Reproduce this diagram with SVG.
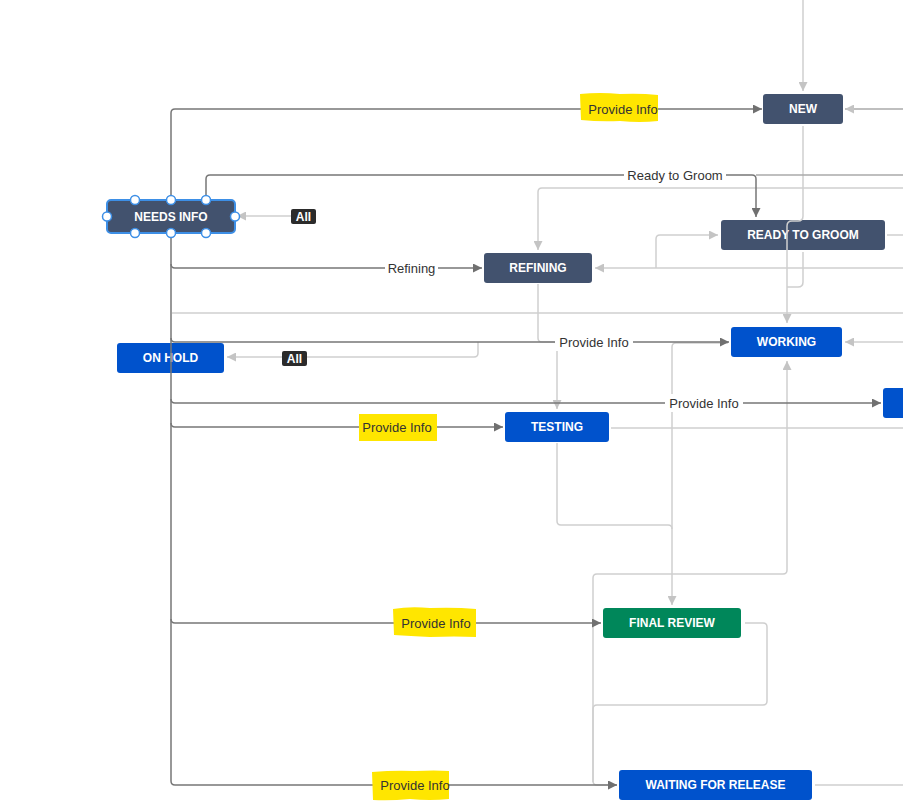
<svg xmlns="http://www.w3.org/2000/svg" width="903" height="805" viewBox="0 0 903 805">
<style>
.dk{fill:none;stroke:#777;stroke-width:1.5}
.md{fill:none;stroke:#aaa;stroke-width:1.5}
.lt{fill:none;stroke:#cfcfcf;stroke-width:1.5}
.node text{font-family:"Liberation Sans",Arial,sans-serif;font-size:12px;font-weight:bold;fill:#fff;text-anchor:middle}
.lbl{font-family:"Liberation Sans",Arial,sans-serif;font-size:13px;fill:#333;text-anchor:middle}
.wbg{fill:#fff}
.hl{fill:#ffe600}
.badge rect{fill:#2b2b2b}
.badge text{font-family:"Liberation Sans",Arial,sans-serif;font-size:12px;font-weight:bold;fill:#fff;text-anchor:middle}
.h{fill:#fff;stroke:#3d8fe6;stroke-width:1.5}
</style>
<defs>
<marker id="ad" viewBox="0 0 10 10" refX="10" refY="5" markerWidth="10" markerHeight="9" markerUnits="userSpaceOnUse" orient="auto"><path d="M0,0 L10,5 L0,10 z" fill="#707070"/></marker>
<marker id="al" viewBox="0 0 10 10" refX="10" refY="5" markerWidth="10" markerHeight="9" markerUnits="userSpaceOnUse" orient="auto"><path d="M0,0 L10,5 L0,10 z" fill="#c4c4c4"/></marker>
</defs>
<rect width="903" height="805" fill="#fff"/>

<g id="nodes">
<g id="new" class="node"><rect x="763" y="94" width="80" height="30" rx="3" fill="#42526e"/><text x="803" y="113">NEW</text></g>
<g id="ready-to-groom" class="node"><rect x="721" y="220" width="164" height="30" rx="3" fill="#42526e"/><text x="803" y="239">READY TO GROOM</text></g>
<g id="refining" class="node"><rect x="484" y="253" width="108" height="30" rx="3" fill="#42526e"/><text x="538" y="272">REFINING</text></g>
<g id="on-hold" class="node"><rect x="117" y="343" width="107" height="30" rx="3" fill="#0052cc"/><text x="170.5" y="362">ON HOLD</text></g>
<g id="working" class="node"><rect x="731" y="327" width="111" height="30" rx="3" fill="#0052cc"/><text x="786.5" y="346">WORKING</text></g>
<g id="right-node" class="node"><rect x="883" y="388" width="30" height="30" rx="3" fill="#0052cc"/></g>
<g id="testing" class="node"><rect x="505" y="412" width="104" height="30" rx="3" fill="#0052cc"/><text x="557" y="431">TESTING</text></g>
<g id="final-review" class="node"><rect x="603" y="608" width="138" height="30" rx="3" fill="#00875a"/><text x="672" y="627">FINAL REVIEW</text></g>
<g id="waiting-for-release" class="node"><rect x="619" y="770" width="193" height="30" rx="3" fill="#0052cc"/><text x="715.5" y="789">WAITING FOR RELEASE</text></g>
</g>

<g id="connectors">
<!-- light connectors -->
<path class="lt" d="M803 0 V91" marker-end="url(#al)"/>
<path class="lt" d="M803 126 V216 Q803 221 798 221 H792 Q787 221 787 226 V323" marker-end="url(#al)"/>
<path class="lt" d="M803 252 V282 Q803 287 798 287 H787"/>
<path class="lt" d="M903 188 H542 Q538 188 538 192 V250" marker-end="url(#al)"/>
<path class="lt" d="M903 268 H595" marker-end="url(#al)"/>
<path class="lt" d="M656 268 V239 Q656 235 660 235 H718" marker-end="url(#al)"/>
<path class="lt" d="M887 235 H903"/>
<path class="lt" d="M172 313 H903"/>
<path class="lt" d="M538 284 V338 Q538 342 542 342 H553 Q557 342 557 346 V409" marker-end="url(#al)"/>
<path class="lt" d="M478 342 V353 Q478 357 474 357 H227" marker-end="url(#al)"/>
<path class="lt" d="M291 216 H237" stroke="#dcdcdc" marker-end="url(#al)"/>
<path class="lt" d="M903 342 H845" marker-end="url(#al)"/>
<path class="lt" d="M611 428 H903"/>
<path class="lt" d="M557 443 V521 Q557 525 561 525 H668 Q672 525 672 529"/>
<path class="lt" d="M728 343 H676 Q672 343 672 347 V605" marker-end="url(#al)"/>
<path class="lt" d="M593 782 V578 Q593 574 597 574 H783 Q787 574 787 570 V361" marker-end="url(#al)"/>
<path class="lt" d="M745 623 H763 Q767 623 767 627 V701 Q767 705 763 705 H597 Q593 705 593 709 V781 Q593 785 597 785 H617" marker-end="url(#al)"/>
<path class="lt" d="M815 785 H903"/>
<!-- medium -->
<path class="md" d="M903 175 H756"/>
<path class="md" d="M903 109 H845" marker-end="url(#al)"/>
<!-- dark connectors from NEEDS INFO -->
<path class="dk" d="M171 200 V113 Q171 109 175 109 H762" marker-end="url(#ad)"/>
<path class="dk" d="M206 200 V179 Q206 175 210 175 H752 Q756 175 756 179 V217" marker-end="url(#ad)"/>
<path class="dk" d="M171 233 V781 Q171 785 175 785 H617" marker-end="url(#ad)"/>
<path class="dk" d="M171 264 Q171 268 175 268 H482" marker-end="url(#ad)"/>
<path class="dk" d="M171 338 Q171 342 175 342 H729" marker-end="url(#ad)"/>
<path class="dk" d="M171 399 Q171 403 175 403 H881" marker-end="url(#ad)"/>
<path class="dk" d="M171 423 Q171 427 175 427 H503" marker-end="url(#ad)"/>
<path class="dk" d="M171 619 Q171 623 175 623 H601" marker-end="url(#ad)"/>

<!-- labels -->
<rect class="wbg" x="624" y="166" width="102" height="18"/>
<text class="lbl" x="675" y="179.5">Ready to Groom</text>
<rect class="wbg" x="385" y="259" width="53" height="18"/>
<text class="lbl" x="411.5" y="272.5">Refining</text>
<rect class="wbg" x="555" y="333" width="78" height="18"/>
<text class="lbl" x="594" y="346.5">Provide Info</text>
<rect class="wbg" x="665" y="394" width="78" height="18"/>
<text class="lbl" x="704" y="407.5">Provide Info</text>

<path class="hl" d="M580 94 Q600 92 620 94 Q640 93 658 95 L658 121 Q640 123 620 121 Q600 122 581 120 Z"/>
<text class="lbl" x="623" y="113.5">Provide Info</text>
<path class="hl" d="M359 414 L437 414 L437 441 L359 441 Z"/>
<text class="lbl" x="397" y="431.5">Provide Info</text>
<path class="hl" d="M393 609 Q410 606 430 608 Q455 607 476 609 L476 637 Q455 636 430 637 Q410 636 394 635 Z"/>
<text class="lbl" x="436" y="627.5">Provide Info</text>
<path class="hl" d="M372 772 Q395 770 415 771 Q435 770 449 771 L449 799 Q430 801 410 799 Q390 801 373 800 Z"/>
<text class="lbl" x="415" y="789.5">Provide Info</text>

<g class="badge"><rect x="291" y="209" width="25" height="15" rx="2"/><text x="303.5" y="221">All</text></g>
<g class="badge"><rect x="282" y="351" width="25" height="15" rx="2"/><text x="294.5" y="363">All</text></g>
</g>

<g id="needs-info" class="node">
<rect x="107" y="200" width="128" height="33" rx="4" fill="#42526e" stroke="#3d8fe6" stroke-width="2"/>
<text x="171" y="220.5">NEEDS INFO</text>
<circle class="h" cx="135" cy="200" r="4.5"/><circle class="h" cx="171" cy="200" r="4.5"/><circle class="h" cx="206" cy="200" r="4.5"/>
<circle class="h" cx="107" cy="216.5" r="4.5"/><circle class="h" cx="235" cy="216.5" r="4.5"/>
<circle class="h" cx="135" cy="233" r="4.5"/><circle class="h" cx="171" cy="233" r="4.5"/><circle class="h" cx="206" cy="233" r="4.5"/>
</g>
</svg>
